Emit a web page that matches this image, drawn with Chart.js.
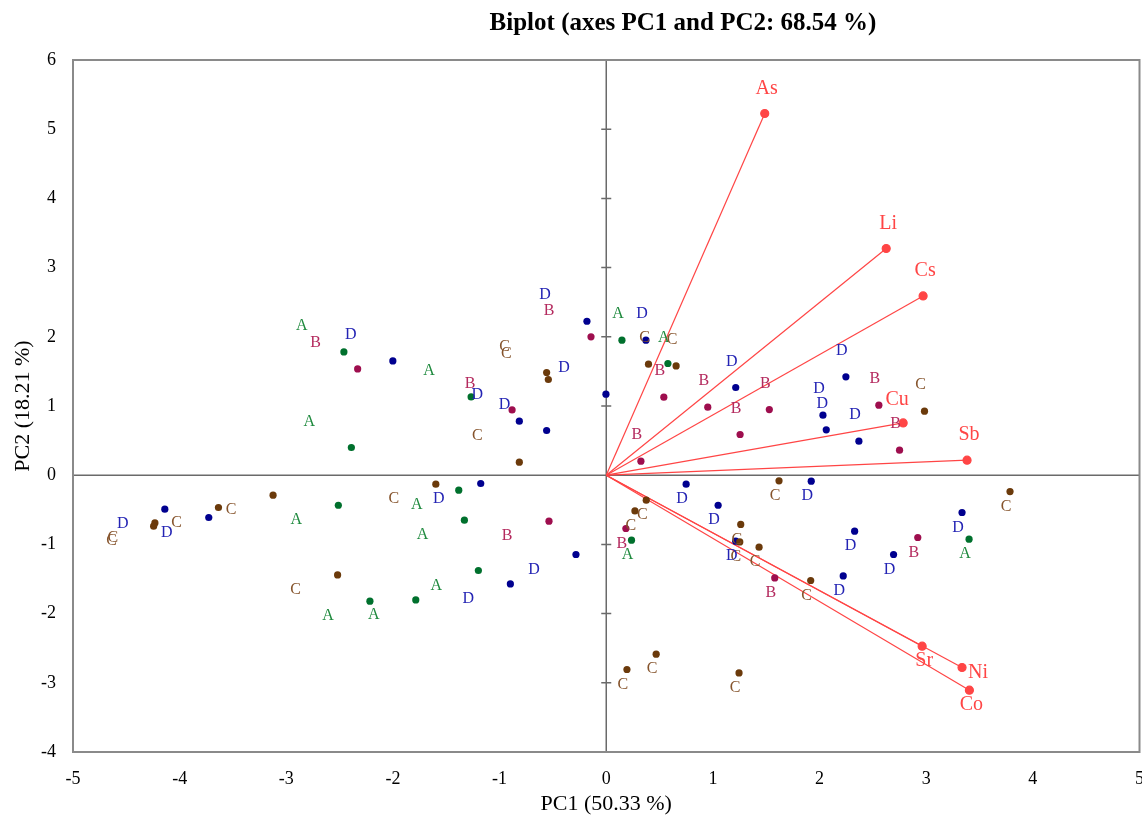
<!DOCTYPE html>
<html>
<head>
<meta charset="utf-8">
<title>Biplot (axes PC1 and PC2)</title>
<script src="https://cdn.jsdelivr.net/npm/chart.js@4.4.1/dist/chart.umd.min.js"></script>
<style>
  html, body { margin: 0; padding: 0; overflow: hidden; background: #fff; }
  #wrap { position: relative; width: 1160px; height: 818px; }
</style>
</head>
<body>
<div id="wrap"><canvas id="biplot"></canvas></div>
<script>
const aX = [-2.460, -2.390, -1.267, 0.147, 0.578, -2.512, -1.383, -1.330, -1.199, -1.786, -2.216, 0.237, 3.402];
const aY = [1.782, 0.400, 1.131, 1.951, 1.614, -0.434, -0.217, -0.650, -1.377, -1.802, -1.821, -0.939, -0.925];
const aSide = ['ul','ul','ul','u','u','dl','dl','dl','dl','dl','dl','d','d'];

const bX = [-2.331, -0.143, -0.883, 0.540, 0.952, 1.529, 1.255, 0.325, 2.556, 2.750, -0.537, 0.184, 1.580, 2.921];
const bY = [1.536, 1.999, 0.944, 1.127, 0.983, 0.949, 0.588, 0.202, 1.012, 0.361, -0.665, -0.770, -1.484, -0.900];
const bSide = ['ul','ul','ul','u','u','u','u','u','u','u','dl','d','d','d'];

const cX = [-0.559, -0.543, -0.815, 0.396, 0.655, 2.984, -4.232, -4.244, -3.636, -3.124, -2.519, -1.598,
            0.375, 0.269, 1.261, 1.252, 1.433, 1.620, 1.917, 3.786, 0.194, 0.468, 1.245];
const cY = [1.484, 1.383, 0.188, 1.604, 1.579, 0.925, -0.689, -0.737, -0.467, -0.289, -1.441, -0.130,
            -0.361, -0.516, -0.712, -0.964, -1.040, -0.082, -1.522, -0.236, -2.808, -2.587, -2.857];
const cSide = ['ul','ul','ul','u','u','u','dl','dl','dl','dl','dl','dl',
               'd','d','d','d','d','d','d','d','d','d','d'];

const dX = [-2.001, -0.181, -0.815, -0.559, -0.003, 0.372, 1.214, 2.247, 2.032, 2.063, 2.369,
            -4.139, -3.727, -1.177, -0.284, -0.899, 0.749, 1.049, 1.922, 1.214, 2.329, 2.222, 3.336, 2.694];
const dY = [1.652, 2.225, 0.780, 0.646, 1.171, 1.951, 1.267, 1.421, 0.867, 0.655, 0.491,
            -0.491, -0.611, -0.120, -1.146, -1.571, -0.130, -0.434, -0.087, -0.954, -0.809, -1.455, -0.539, -1.146];
const dSide = ['ul','ul','ul','ul','ul','u','u','u','u','u','u',
               'dl','dl','dl','dl','dl','d','d','d','d','d','d','d','d'];

// variable loadings (red vectors)
const variables = ['As', 'Li', 'Cs', 'Cu', 'Sb', 'Sr', 'Ni', 'Co'];
const varX = [1.486, 2.625, 2.971, 2.784, 3.383, 2.962, 3.336, 3.405];
const varY = [5.227, 3.276, 2.591, 0.756, 0.217, -2.471, -2.779, -3.107];
const varSide = ['u', 'u', 'u', 'ul', 'u', 'd', 'r', 'd'];

const xTicks = [-5, -4, -3, -2, -1, 0, 1, 2, 3, 4, 5];
const yTicks = [-4, -3, -2, -1, 0, 1, 2, 3, 4, 5, 6];

// --- 2. STYLE ---
const SERIF = "'Liberation Serif', 'Times New Roman', serif";
const VEC = '#FF4545';
const groupStyle = {
    A: { dot: '#00702D', text: '#1F8A3E' },
    B: { dot: '#9E0E4E', text: '#B42A5E' },
    C: { dot: '#6B3A0B', text: '#85532B' },
    D: { dot: '#00008F', text: '#2424B4' }
};
// label offset (px) relative to the marker, by side code
const pointOffset = { ul: [-42, -26], u: [-4, -26], dl: [-42, 15], d: [-4, 15] };
const varOffset = { u: [2, -25], ul: [-6, -23], d: [2, 15], r: [16, 5] };

const zip = (xs, ys) => xs.map((x, i) => ({ x, y: ys[i] }));

const groupSets = [
    ['A', aX, aY, aSide], ['B', bX, bY, bSide], ['C', cX, cY, cSide], ['D', dX, dY, dSide]
].map(([g, xs, ys, side]) => ({
    label: g,
    data: zip(xs, ys),
    side: side,
    backgroundColor: groupStyle[g].dot,
    borderColor: groupStyle[g].dot,
    pointRadius: 3.6,
    pointHoverRadius: 3.6,
    borderWidth: 0,
    order: 0
}));

const vectorSets = variables.map((v, i) => ({
    label: v,
    isVector: true,
    data: [{ x: 0, y: 0 }, { x: varX[i], y: varY[i] }],
    showLine: true,
    borderColor: VEC,
    backgroundColor: VEC,
    borderWidth: 1.2,
    pointRadius: [0, 4],
    pointHoverRadius: [0, 4],
    order: 5
}));

// --- 3. PLUGINS ---
const frame = {
    id: 'frame',
    beforeDatasetsDraw(chart) {
        const { ctx, chartArea: a, scales: { x, y } } = chart;
        const x0 = x.getPixelForValue(0), y0 = y.getPixelForValue(0);
        ctx.save();
        // centre axes
        ctx.strokeStyle = '#6a6a6a';
        ctx.lineWidth = 1.5;
        ctx.beginPath();
        ctx.moveTo(x0, a.top); ctx.lineTo(x0, a.bottom);
        ctx.moveTo(a.left, y0); ctx.lineTo(a.right, y0);
        yTicks.forEach(t => {
            if (t === 0 || t === yTicks[0] || t === yTicks[yTicks.length - 1]) return;
            const py = y.getPixelForValue(t);
            ctx.moveTo(x0 - 5, py); ctx.lineTo(x0 + 5, py);
        });
        ctx.stroke();
        // box
        ctx.strokeStyle = '#8a8a8a';
        ctx.lineWidth = 2;
        ctx.strokeRect(a.left, a.top, a.right - a.left, a.bottom - a.top);
        ctx.restore();
    },
    afterDatasetsDraw(chart) {
        const { ctx } = chart;
        ctx.save();
        ctx.textAlign = 'center';
        ctx.textBaseline = 'middle';
        chart.data.datasets.forEach((ds, di) => {
            const meta = chart.getDatasetMeta(di);
            if (ds.isVector) {
                const el = meta.data[1];
                const off = varOffset[varSide[variables.indexOf(ds.label)]];
                ctx.font = '20px ' + SERIF;
                ctx.fillStyle = VEC;
                ctx.fillText(ds.label, el.x + off[0], el.y + off[1]);
            } else {
                ctx.font = '16px ' + SERIF;
                ctx.fillStyle = groupStyle[ds.label].text;
                meta.data.forEach((el, i) => {
                    const off = pointOffset[ds.side[i]];
                    ctx.fillText(ds.label, el.x + off[0], el.y + off[1]);
                });
            }
        });
        ctx.restore();
    },
    afterDraw(chart) {
        const { ctx } = chart;
        ctx.save();
        ctx.font = 'bold 25px ' + SERIF;
        ctx.fillStyle = '#000';
        ctx.textAlign = 'center';
        ctx.textBaseline = 'middle';
        ctx.fillText('Biplot (axes PC1 and PC2: 68.54 %)', 683, 24);
        ctx.restore();
    }
};

// --- 4. CHART ---
new Chart(document.getElementById('biplot').getContext('2d'), {
    type: 'scatter',
    data: { datasets: [...groupSets, ...vectorSets] },
    options: {
        responsive: true,
        maintainAspectRatio: false,
        animation: false,
        layout: { padding: { top: 60, right: 20, left: 0, bottom: 0 } },
        plugins: { legend: { display: false }, tooltip: { enabled: false }, title: { display: false } },
        scales: {
            x: {
                type: 'linear',
                min: xTicks[0], max: xTicks[xTicks.length - 1],
                afterBuildTicks: s => { s.ticks = xTicks.map(v => ({ value: v })); },
                grid: { display: false, drawTicks: false },
                border: { display: false },
                ticks: { color: '#000', font: { family: SERIF, size: 18 }, padding: 16, maxRotation: 0 },
                title: { display: true, text: 'PC1 (50.33 %)', color: '#000', font: { family: SERIF, size: 22 }, padding: { top: 0, bottom: 1 } },
                afterFit: s => { s.height = 66; }
            },
            y: {
                type: 'linear',
                min: yTicks[0], max: yTicks[yTicks.length - 1],
                afterBuildTicks: s => { s.ticks = yTicks.map(v => ({ value: v })); },
                grid: { display: false, drawTicks: false },
                border: { display: false },
                ticks: { color: '#000', font: { family: SERIF, size: 18 }, padding: 17 },
                title: { display: true, text: 'PC2 (18.21 %)', color: '#000', font: { family: SERIF, size: 22 }, padding: { top: 10, bottom: 0 } },
                afterFit: s => { s.width = 73; }
            }
        }
    },
    plugins: [frame]
});
</script>
</body>
</html>
